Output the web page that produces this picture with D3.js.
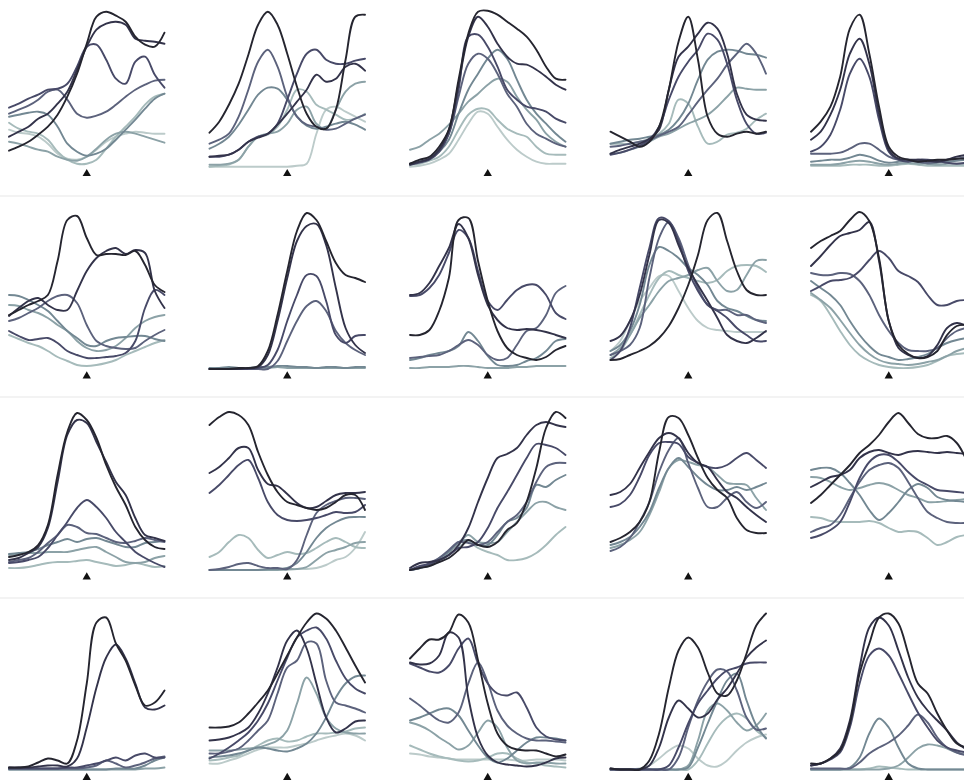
<!DOCTYPE html>
<html>
<head>
<meta charset="utf-8">
<script src="https://cdn.jsdelivr.net/npm/d3@7"></script>
<style>
  html, body { margin: 0; padding: 0; background: #ffffff; }
  svg { display: block; }
</style>
</head>
<body>
<svg id="chart" width="964" height="782"></svg>
<script>
// Sample positions along each profile; the marker sits at the middle sample.
const samples = [0, 1, 2, 3, 4, 5, 6, 7, 8, 9, 10, 11, 12, 13, 14, 15, 16];
const markerAt = 8;

// Each panel: one array per series, ordered from darkest to lightest series.
const r1c1 = [
  [16,20,25,32,40,52,70,93,123,150,155,151,145,130,122,120,134],
  [30,35,40,48,53,63,75,97,120,137,143,145,142,128,126,125,123],
  [59,63,68,72,77,78,83,100,120,122,107,88,83,105,110,92,79],
  [53,57,61,67,75,77,67,53,49,51,55,62,70,77,82,86,87],
  [50,52,54,55,52,40,23,15,11,13,18,27,37,47,58,68,73],
  [25,23,20,17,15,10,7,6,10,18,27,33,35,33,30,27,24],
  [44,38,35,33,27,15,7,3,3,7,18,30,40,50,62,70,73],
  [37,34,33,30,23,13,8,7,10,17,25,30,33,35,34,33,33]
];
const r1c2 = [
  [34,45,62,83,112,142,155,142,113,80,53,40,38,57,107,150,152],
  [10,11,12,17,25,29,33,42,53,65,77,92,85,88,100,103,96],
  [10,10,12,17,25,30,33,43,67,93,113,117,107,103,103,106,108],
  [23,27,33,50,77,105,117,100,70,50,42,40,37,38,43,48,52],
  [18,23,30,42,57,72,79,78,67,50,41,38,40,43,45,42,37],
  [2,2,3,7,20,30,33,35,43,57,60,43,38,57,75,83,85],
  [0,1,2,7,20,30,32,40,57,77,75,62,57,52,47,48,53],
  [0,0,0,0,0,0,0,0,0,1,3,33,57,60,55,50,45]
];
const r1c3 = [
  [3,7,10,20,37,87,133,155,156,152,145,138,130,117,100,88,87],
  [2,5,8,17,37,83,130,150,140,123,110,103,102,97,90,82,77],
  [2,4,7,15,33,77,130,132,120,100,77,67,60,58,55,48,44],
  [3,5,8,17,33,70,103,113,108,93,73,60,43,33,28,23,20],
  [3,5,8,15,27,53,77,93,108,117,108,87,67,53,43,33,25],
  [17,20,27,33,42,53,65,73,82,88,85,70,57,47,33,25,20],
  [2,3,6,10,20,37,52,58,57,47,38,33,30,20,13,12,12],
  [0,1,3,7,13,27,43,55,53,40,27,17,10,5,3,3,3]
];
const r1c4 = [
  [35,30,25,20,25,40,77,125,150,107,50,33,30,33,35,33,35],
  [13,17,20,23,28,37,77,110,120,133,144,138,113,73,52,47,46],
  [12,14,17,21,27,40,67,90,105,117,133,127,103,67,43,33,34],
  [20,21,23,25,27,31,35,40,52,65,77,88,102,113,123,113,93],
  [23,25,27,28,30,32,37,47,63,87,107,115,117,116,113,112,109],
  [13,14,17,20,25,30,33,38,43,47,52,60,70,79,78,77,77],
  [23,23,23,25,28,33,43,67,63,40,23,25,32,34,38,47,53]
];
const r1c5 = [
  [35,45,60,90,138,152,113,60,20,10,7,5,6,7,7,8,8],
  [27,35,52,77,113,128,103,53,17,8,7,7,6,5,7,10,12],
  [15,20,32,57,93,108,90,47,15,7,5,7,7,6,4,3,4],
  [13,13,13,14,18,23,23,17,10,7,7,5,4,5,7,8,10],
  [5,6,7,7,9,12,10,6,4,5,6,5,3,4,5,6,7],
  [2,2,2,3,5,6,5,3,2,3,4,3,3,2,3,3,3],
  [1,1,1,1,2,2,2,1,1,2,3,2,1,1,1,1,1]
];
const r2c1 = [
  [54,59,64,68,74,108,149,153,131,114,115,115,114,118,104,84,77],
  [53,61,68,71,64,59,59,78,98,111,118,121,115,119,116,78,61],
  [38,33,29,30,31,26,18,14,11,11,12,13,16,28,61,79,74],
  [48,51,56,61,68,73,74,66,44,28,23,21,20,21,28,34,39],
  [74,73,69,64,58,48,38,31,24,23,28,31,32,33,33,30,28],
  [64,63,59,56,51,44,38,28,21,18,19,23,31,41,48,52,54],
  [34,30,26,23,18,12,8,4,3,4,6,9,14,18,22,26,29]
];
const r2c2 = [
  [0,0,0,1,1,3,18,54,98,138,156,149,128,106,94,91,87],
  [0,0,0,0,1,2,14,48,91,128,143,145,124,81,41,24,16],
  [0,0,0,0,0,1,4,19,48,74,94,93,68,34,26,33,34],
  [0,0,0,0,0,0,0,8,28,48,63,68,58,38,26,19,14],
  [1,1,2,1,1,2,2,3,3,2,2,1,2,2,1,2,2],
  [0,1,1,1,1,1,1,2,1,1,1,1,1,1,1,1,1]
];
const r2c3 = [
  [34,34,39,58,91,149,151,108,68,38,21,14,11,9,12,19,23],
  [74,76,86,103,121,145,131,94,64,49,41,39,40,39,37,34,31],
  [73,74,81,94,116,139,131,98,68,59,69,79,84,84,74,56,50],
  [11,12,13,14,18,24,29,24,14,9,11,24,38,41,54,76,83],
  [9,11,14,16,18,23,37,28,13,4,3,4,8,11,18,28,30],
  [1,1,2,2,2,3,3,2,1,1,1,2,2,3,3,3,3]
];
const r2c4 = [
  [9,10,14,18,23,31,43,61,84,114,149,156,128,98,79,74,74],
  [28,33,48,74,114,149,146,124,101,84,68,51,34,28,26,31,38],
  [9,18,41,81,121,151,148,128,98,78,64,58,51,41,34,28,28],
  [14,18,24,41,91,131,147,131,104,81,64,59,59,54,54,49,46],
  [18,24,38,64,104,122,118,111,101,94,84,68,61,58,53,49,48],
  [14,21,34,51,64,78,88,91,94,99,101,88,78,79,94,108,109],
  [11,18,34,54,74,91,98,94,91,88,86,89,98,103,104,103,97],
  [18,28,48,68,81,93,93,78,61,48,41,39,38,37,37,37,37]
];
const r2c5 = [
  [121,128,133,138,149,157,148,111,48,24,15,11,12,18,34,43,44],
  [103,113,124,133,136,139,147,108,48,21,14,11,13,24,41,46,43],
  [78,83,88,89,91,98,109,118,111,98,93,87,74,64,64,68,69],
  [96,94,94,96,95,88,74,54,38,26,19,18,18,21,31,38,41],
  [88,81,74,64,48,34,23,15,12,9,10,12,15,21,26,29,31],
  [76,69,61,49,36,24,15,9,6,5,4,5,7,9,13,18,21],
  [74,68,54,38,24,14,8,4,2,1,1,2,4,8,13,15,16]
];
const r3c1 = [
  [13,15,18,25,45,95,138,157,150,132,105,83,65,43,30,23,21],
  [10,12,17,23,42,88,135,150,147,128,108,88,75,52,35,32,29],
  [7,8,10,13,22,35,48,62,70,63,52,38,28,18,12,7,3],
  [8,10,12,18,27,35,45,43,37,36,32,28,27,29,32,30,28],
  [16,17,18,21,25,28,31,28,31,32,29,26,23,23,27,28,29],
  [15,16,17,17,18,18,18,20,22,23,18,13,8,7,8,12,14],
  [2,2,3,5,7,8,8,9,10,8,6,4,5,7,5,3,4]
];
const r3c2 = [
  [145,153,158,155,145,118,95,78,68,65,62,60,62,68,75,75,60],
  [97,103,112,122,122,100,86,84,76,67,62,63,69,75,77,77,78],
  [77,85,95,105,110,92,68,55,50,49,50,52,55,58,57,58,65],
  [0,1,3,6,7,4,2,2,1,10,35,57,65,69,72,72,71],
  [0,0,0,0,0,0,1,1,2,7,18,32,42,48,52,53,53],
  [0,0,0,0,0,0,0,0,1,1,3,10,17,20,23,27,28],
  [13,18,28,35,32,20,12,15,18,16,17,22,28,32,28,23,22],
  [0,0,0,0,0,0,0,0,0,1,1,2,5,10,13,22,38]
];
const r3c3 = [
  [0,2,4,8,12,20,30,25,23,28,40,47,68,102,142,158,152],
  [2,7,8,10,15,25,42,68,92,112,116,122,135,145,148,145,143],
  [0,4,6,10,15,22,23,28,42,62,78,95,112,126,125,122,115],
  [0,2,7,12,20,28,27,25,28,38,48,55,68,88,103,107,107],
  [0,2,5,12,18,28,30,25,25,35,48,52,62,85,83,90,95],
  [0,2,5,10,18,27,35,28,27,28,38,48,58,67,68,63,60],
  [0,2,4,8,15,23,28,22,18,15,10,10,12,17,25,35,43]
];
const r3c4 = [
  [28,32,38,48,68,118,153,152,135,112,92,80,72,52,40,37,37],
  [75,78,86,102,118,132,137,132,117,107,103,90,78,72,63,55,48],
  [63,66,75,93,115,127,128,126,113,107,103,102,105,112,117,110,102],
  [19,23,32,48,68,98,120,132,107,82,63,63,72,78,68,62,68],
  [25,28,33,43,58,82,102,112,103,93,85,80,80,83,80,83,87],
  [22,25,30,38,55,78,102,110,108,105,103,95,87,86,85,72,60]
];
const r3c5 = [
  [67,75,85,95,105,117,125,135,148,157,147,136,132,132,134,127,110],
  [83,88,93,95,100,112,118,120,117,115,118,119,118,117,118,117,116],
  [32,35,40,48,68,92,108,115,115,108,98,90,85,80,79,78,77],
  [38,42,45,55,72,88,100,105,107,102,88,72,58,52,48,47,47],
  [100,102,102,97,87,75,60,50,57,68,80,86,82,73,70,69,68],
  [93,92,88,83,80,82,85,87,85,80,75,72,68,68,69,70,71],
  [53,52,49,48,48,48,49,47,42,38,39,38,32,25,28,33,35]
];
const r4c1 = [
  [3,3,4,8,12,10,7,30,87,148,153,127,110,85,65,68,80],
  [3,3,3,4,5,5,4,12,43,83,113,126,112,87,63,61,65],
  [2,2,2,2,2,2,3,3,5,7,10,13,10,15,17,13,13],
  [2,2,2,2,2,2,2,2,3,5,10,7,3,5,8,12,14],
  [1,1,1,1,1,1,1,1,1,1,1,2,2,2,5,10,13],
  [1,1,1,1,1,1,1,1,1,1,1,1,1,1,2,2,3]
];
const r4c2 = [
  [43,43,44,48,57,68,80,97,115,133,148,157,152,140,123,105,88],
  [30,31,33,37,43,57,77,103,130,140,122,87,53,38,42,49,50],
  [12,17,23,30,38,50,67,90,113,133,140,143,132,110,92,82,77],
  [17,17,19,22,30,40,50,77,103,110,128,127,90,68,65,62,58],
  [13,14,15,17,20,23,22,20,19,22,27,37,53,73,87,94,95],
  [20,20,20,21,22,23,26,30,40,67,93,77,53,42,38,37,37],
  [10,11,13,15,20,25,30,32,29,30,34,37,37,38,39,42,43],
  [7,7,10,13,17,21,23,23,23,25,27,30,33,35,37,35,30]
];
const r4c3 = [
  [112,122,131,131,138,156,148,110,67,37,25,21,20,20,17,14,16],
  [108,106,107,115,138,133,73,33,15,8,6,5,4,5,8,12,13],
  [107,103,99,98,105,122,132,107,87,77,75,78,63,43,34,31,30],
  [72,65,57,50,48,58,87,108,88,60,45,37,32,30,30,29,28],
  [50,53,57,61,62,55,40,25,13,8,12,20,28,33,33,32,30],
  [48,45,40,33,27,21,25,38,50,43,23,10,7,8,8,7,7],
  [25,21,17,14,12,10,9,10,13,17,17,12,8,7,5,4,3],
  [17,16,14,13,12,11,11,11,11,11,11,10,10,11,11,11,10]
];
const r4c4 = [
  [2,1,1,1,10,37,83,120,133,123,98,77,75,90,117,145,157],
  [2,1,1,1,5,23,53,70,62,53,57,71,82,97,113,123,130],
  [1,1,1,1,1,1,5,23,47,67,80,92,100,103,107,108,108],
  [1,1,1,1,1,1,1,13,43,70,89,101,99,80,53,41,42],
  [1,1,1,1,1,1,1,1,3,23,47,70,90,97,70,45,32],
  [1,1,1,1,1,1,1,1,5,30,60,67,60,48,40,45,57],
  [1,1,1,1,1,1,1,1,1,10,27,43,53,57,52,40,33],
  [1,1,1,2,5,12,20,25,22,12,5,4,10,20,28,33,36]
];
const r4c5 = [
  [7,7,12,20,47,97,127,153,157,147,117,87,77,57,40,27,23],
  [5,7,12,22,50,103,143,153,145,120,93,73,60,50,40,28,21],
  [5,7,11,18,43,87,115,122,115,97,77,58,43,30,23,20,18],
  [2,2,2,2,2,8,17,23,28,35,45,56,48,33,23,18,15],
  [1,1,1,1,3,13,37,52,43,23,7,2,1,1,1,1,1],
  [1,1,1,1,1,1,1,1,2,5,13,22,26,25,22,18,16],
  [1,1,1,1,1,1,2,4,3,2,1,1,1,1,1,1,1]
];

const grid = [
  [r1c1, r1c2, r1c3, r1c4, r1c5],
  [r2c1, r2c2, r2c3, r2c4, r2c5],
  [r3c1, r3c2, r3c3, r3c4, r3c5],
  [r4c1, r4c2, r4c3, r4c4, r4c5]
];

// Series shades, dark slate through pale grey-teal.
const shades = ["#25252f", "#33334a", "#484a68", "#5c627c", "#738893", "#8ca2a7", "#a6bbbb", "#bccbca"];

const svg = d3.select("#chart");

// Panel geometry
const colStart = 9, colStep = 200.5, plotW = 155.5, plotH = 157;
const rowBottoms = [166.7, 369, 570, 770.5];

// faint row separators
[196, 397, 598].forEach(yy => {
  svg.append("line")
    .attr("x1", 0).attr("x2", 964).attr("y1", yy).attr("y2", yy)
    .attr("stroke", "#f3f3f3").attr("stroke-width", 2);
});

const yDomain = [0, 157];

grid.forEach((row, r) => {
  row.forEach((series, c) => {
    const x0 = colStart + c * colStep;
    const bottom = rowBottoms[r];
    const x = d3.scaleLinear().domain([samples[0], samples[samples.length - 1]]).range([x0, x0 + plotW]);
    const y = d3.scaleLinear().domain(yDomain).range([bottom, bottom - plotH]);

    const line = d3.line()
      .x((d, i) => x(samples[i]))
      .y(d => y(d))
      .curve(d3.curveCatmullRom.alpha(0.5));

    const g = svg.append("g").attr("class", "panel");

    // lighter series first so the darker ones sit on top
    const order = series.map((s, i) => i).reverse();
    g.selectAll("path.series")
      .data(order)
      .join("path")
      .attr("class", "series")
      .attr("d", i => line(series[i]))
      .attr("fill", "none")
      .attr("stroke", i => shades[Math.min(i, shades.length - 1)])
      .attr("stroke-width", 1.9)
      .attr("stroke-linejoin", "round")
      .attr("stroke-linecap", "round");

    g.append("path")
      .attr("d", d3.symbol(d3.symbolTriangle, 30)())
      .attr("transform", `translate(${x(samples[markerAt])},${bottom + 7})`)
      .attr("fill", "#111111");
  });
});
</script>
</body>
</html>
